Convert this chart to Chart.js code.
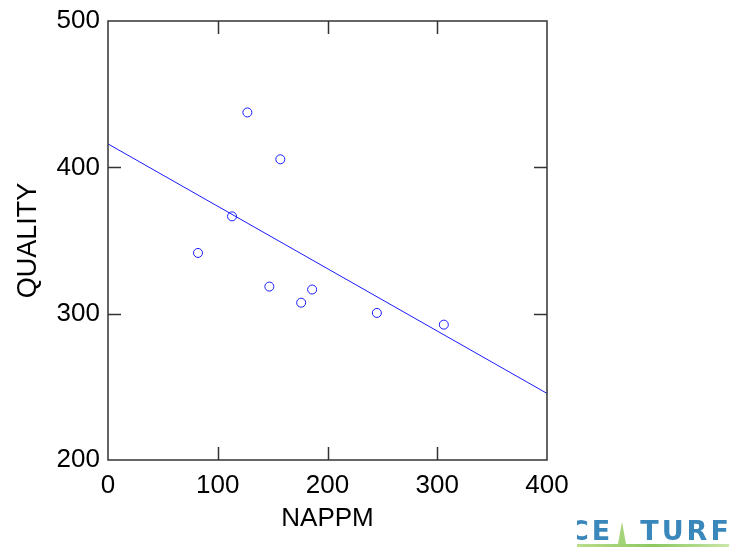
<!DOCTYPE html>
<html>
<head>
<meta charset="utf-8">
<script src="https://cdn.jsdelivr.net/npm/chart.js@4/dist/chart.umd.min.js"></script>
<style>
  html, body { margin: 0; padding: 0; background: #fff; }
  #wrap { position: relative; width: 733px; height: 552px; }
  #logo { position: absolute; left: 577px; top: 515px; width: 156px; height: 37px; overflow: hidden;
          font-family: 'DejaVu Sans', sans-serif; font-weight: bold; font-size: 27px; color: #3a88bb; letter-spacing: 3px; line-height: 32px; }
  #logo .grass { position: absolute; left: 0; right: 4px; bottom: 5px; height: 3px;
          background: linear-gradient(to right, #b9dc8a, #8cc860, #c9e6a8); }
  #logo .brizna { position: absolute; left: 41px; bottom: 8px; width: 0; height: 0;
          border-left: 4px solid transparent; border-right: 4px solid transparent; border-bottom: 22px solid #a4d276; }
</style>
</head>
<body>
<div id="wrap">
  <canvas id="grafica" width="733" height="552"></canvas>
  <div id="logo"><span style="margin-left:-8px">CE</span><span style="margin-left:27px">TURF</span><div class="brizna"></div><div class="grass"></div></div>
</div>
<script>
  // datos
  const nappm = [82, 113, 127, 147, 157, 176, 186, 245, 306];
  const quality = [341.5, 366.5, 437.5, 318.5, 405.5, 307.5, 316.5, 300.5, 292.5];
  // recta de regresion
  const fitX = [0, 400];
  const fitY = [416, 245.5];

  const xTicks = [0, 100, 200, 300, 400];
  const yTicks = [200, 300, 400, 500];

  const puntos = nappm.map((x, i) => ({ x: x, y: quality[i] }));
  const recta = fitX.map((x, i) => ({ x: x, y: fitY[i] }));

  const familia = "'Liberation Sans', Arial, sans-serif";
  const fuente = { family: familia, size: 26 };

  // marco y marcas hacia adentro
  const marco = {
    id: 'marco',
    afterDraw(chart) {
      const ctx = chart.ctx;
      const a = chart.chartArea;
      const sx = chart.scales.x, sy = chart.scales.y;
      const len = 13;
      ctx.save();
      ctx.strokeStyle = '#333';
      ctx.lineWidth = 1.5;
      ctx.strokeRect(a.left, a.top, a.right - a.left, a.bottom - a.top);
      ctx.beginPath();
      for (const v of xTicks.slice(1, -1)) {
        const px = Math.round(sx.getPixelForValue(v)) + 0.5;
        ctx.moveTo(px, a.bottom); ctx.lineTo(px, a.bottom - len);
        ctx.moveTo(px, a.top); ctx.lineTo(px, a.top + len);
      }
      for (const v of yTicks.slice(1, -1)) {
        const py = Math.round(sy.getPixelForValue(v)) + 0.5;
        ctx.moveTo(a.left, py); ctx.lineTo(a.left + len, py);
        ctx.moveTo(a.right, py); ctx.lineTo(a.right - len, py);
      }
      ctx.stroke();
      ctx.restore();
    }
  };

  const config = {
    type: 'scatter',
    data: {
      datasets: [
        {
          label: 'QUALITY',
          data: puntos,
          borderColor: '#1a1aff',
          backgroundColor: 'rgba(0,0,0,0)',
          borderWidth: 1,
          pointRadius: 4.5,
          pointStyle: 'circle'
        },
        {
          label: 'ajuste',
          type: 'line',
          data: recta,
          borderColor: '#1a1aff',
          borderWidth: 1,
          pointRadius: 0,
          fill: false
        }
      ]
    },
    plugins: [marco],
    options: {
      responsive: false,
      animation: false,
      layout: { padding: { top: 21, right: 186, left: 0, bottom: 0 } },
      plugins: { legend: { display: false }, tooltip: { enabled: false } },
      scales: {
        x: {
          type: 'linear',
          min: 0, max: 400,
          grid: { display: false },
          border: { display: false },
          ticks: { stepSize: 100, color: '#000', font: fuente, padding: 2, maxRotation: 0 },
          title: { display: true, text: 'NAPPM', color: '#000', font: { family: familia, size: 26 }, padding: { top: 0, bottom: 18 } },
          afterFit(scale) { scale.height = 92; }
        },
        y: {
          type: 'linear',
          min: 200, max: 500,
          grid: { display: false },
          border: { display: false },
          ticks: { stepSize: 100, color: '#000', font: fuente, padding: 0 },
          title: { display: true, text: 'QUALITY', color: '#000', font: { family: familia, size: 27 }, padding: { top: 12, bottom: 0 } },
          afterFit(scale) { scale.width = 108; }
        }
      }
    }
  };

  const myChart = new Chart(document.getElementById('grafica'), config);
</script>
</body>
</html>
